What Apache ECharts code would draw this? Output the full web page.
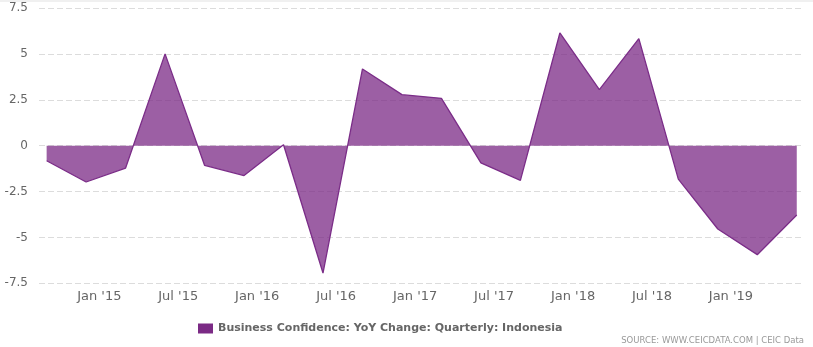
<!DOCTYPE html>
<html>
<head>
<meta charset="utf-8">
<script src="https://cdn.jsdelivr.net/npm/echarts@6/dist/echarts.min.js"></script>
<style>
html,body{margin:0;padding:0;background:#fff;}
#chart{width:813px;height:347px;}
</style>
</head>
<body>
<div id="chart"></div>
<script>
const seriesName = 'Business Confidence: YoY Change: Quarterly: Indonesia';
const dates = ['2014-09','2014-12','2015-03','2015-06','2015-09','2015-12','2016-03','2016-06','2016-09','2016-12',
               '2017-03','2017-06','2017-09','2017-12','2018-03','2018-06','2018-09','2018-12','2019-03','2019-06'];
const values = [-0.82,-1.98,-1.22,5.0,-1.07,-1.63,0.05,-6.94,4.18,2.78,
                2.58,-0.94,-1.89,6.14,3.05,5.83,-1.82,-4.54,-5.94,-3.78];
const tickDates = ['2015-01','2015-07','2016-01','2016-07','2017-01','2017-07','2018-01','2018-07','2019-01'];
const tickLabels = ["Jan '15","Jul '15","Jan '16","Jul '16","Jan '17","Jul '17","Jan '18","Jul '18","Jan '19"];
const yTicks = [-7.5,-5,-2.5,0,2.5,5,7.5];

function monthIndex(d){
  const p = d.split('-');
  return (parseInt(p[0],10)-2015)*12 + (parseInt(p[1],10)-1);
}
const tickPos = tickDates.map(monthIndex);
const labelMap = {};
tickPos.forEach((p,i)=>{ labelMap[p] = tickLabels[i]; });
const seriesData = dates.map((d,i)=>[monthIndex(d), values[i]]);

const chart = echarts.init(document.getElementById('chart'), null, {renderer:'canvas'});
chart.setOption({
  animation:false,
  backgroundColor:'#ffffff',
  grid:{left:39,right:9,top:8,bottom:63.7,containLabel:false},
  xAxis:{
    type:'value',
    min:-4.58,
    max:53.55,
    axisLine:{show:false},
    axisTick:{show:false},
    splitLine:{show:false},
    axisLabel:{
      customValues:tickPos,
      formatter:function(v){ return labelMap[v] !== undefined ? labelMap[v] : ''; },
      color:'#666666',
      fontFamily:'DejaVu Sans',
      fontSize:13,
      margin:7
    }
  },
  yAxis:{
    type:'value',
    min:-7.5,
    max:7.5,
    interval:2.5,
    axisLine:{show:false},
    axisTick:{show:false},
    splitLine:{show:true,lineStyle:{color:'#dcdcdc',width:1,type:[6,3]}},
    axisLabel:{
      customValues:yTicks,
      color:'#666666',
      fontFamily:'DejaVu Sans',
      fontSize:12,
      margin:11,
      formatter:function(v){ return String(v); }
    }
  },
  legend:{
    left:193,
    top:318,
    icon:'rect',
    itemWidth:15,
    itemHeight:10,
    itemGap:10,
    textStyle:{color:'#666666',fontFamily:'DejaVu Sans',fontSize:11,fontWeight:'bold'},
    data:[{name:seriesName,itemStyle:{color:'#7b2a85'}}]
  },
  graphic:[
    {type:'rect',left:0,top:0,shape:{width:813,height:2},style:{fill:'#f0f0f0'},silent:true},
    {type:'text',right:9,top:336,style:{text:'SOURCE: WWW.CEICDATA.COM | CEIC Data',fill:'#999999',font:'8.5px "DejaVu Sans"'},silent:true}
  ],
  series:[{
    name:seriesName,
    type:'line',
    data:seriesData,
    symbol:'none',
    showSymbol:false,
    lineStyle:{color:'#7b2d88',width:1.3},
    itemStyle:{color:'#7b2a85'},
    areaStyle:{color:'#7b2a85',opacity:0.75,origin:0}
  }]
});
</script>
</body>
</html>
